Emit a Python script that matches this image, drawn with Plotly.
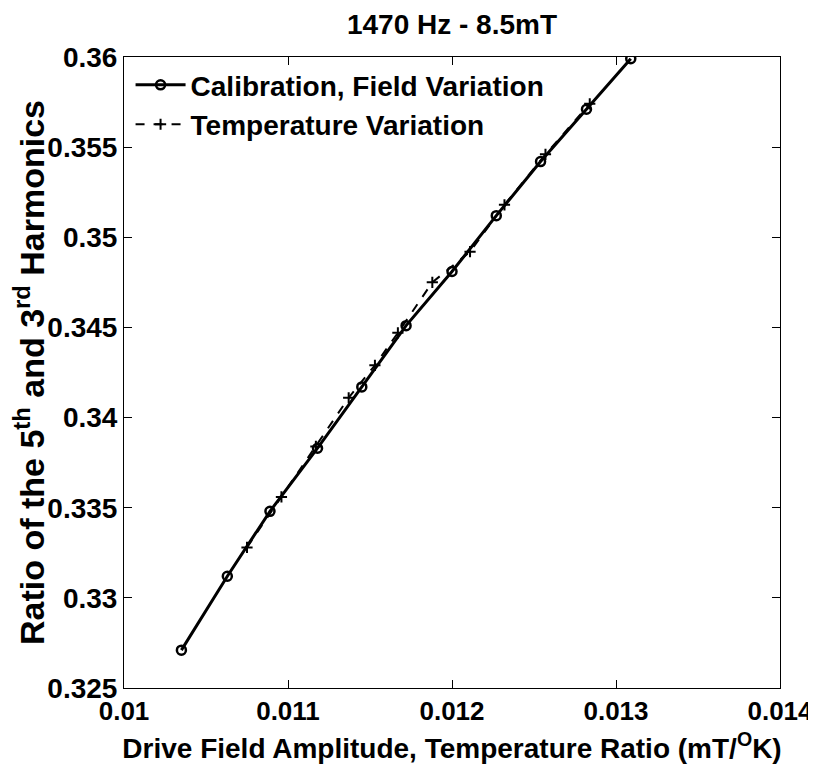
import plotly.graph_objects as go

# Calibration, field variation
calib_x = [0.01035, 0.01063, 0.01089, 0.01118, 0.01145, 0.01172, 0.01200, 0.01227, 0.01254, 0.01282, 0.01309]
calib_y = [0.3271, 0.3312, 0.3348, 0.3383, 0.3417, 0.3451, 0.3481, 0.3512, 0.3542, 0.3571, 0.3599]

# Temperature variation
temp_x = [0.01075, 0.01096, 0.01117, 0.01137, 0.01153, 0.01167, 0.01188, 0.01211, 0.01232, 0.01257, 0.01284]
temp_y = [0.3328, 0.3356, 0.3384, 0.3411, 0.3429, 0.3447, 0.3475, 0.3492, 0.3518, 0.3546, 0.3574]

x_ticks = [0.01, 0.011, 0.012, 0.013, 0.014]
x_labels = ["0.01", "0.011", "0.012", "0.013", "0.014"]
y_ticks = [0.325, 0.33, 0.335, 0.34, 0.345, 0.35, 0.355, 0.36]
y_labels = ["0.325", "0.33", "0.335", "0.34", "0.345", "0.35", "0.355", "0.36"]

font_name = "Liberation Sans, Arial, sans-serif"

calib_trace = go.Scatter(
    x=calib_x, y=calib_y,
    mode='lines+markers',
    line=dict(color='black', width=3),
    marker=dict(symbol='circle-open', size=9, color='black', line=dict(width=2.5)),
    name='<b>Calibration, Field Variation</b>'
)
temp_trace = go.Scatter(
    x=temp_x, y=temp_y,
    mode='lines+markers',
    line=dict(color='black', width=2, dash='dash'),
    marker=dict(symbol='cross-thin-open', size=8, color='black', line=dict(width=2, color='black')),
    name='<b>Temperature Variation</b>'
)

axis_common = dict(
    showgrid=False, zeroline=False, automargin=False, ticklabeloverflow='allow',
    showline=True, linecolor='black', linewidth=1, mirror='ticks',
    ticks='inside', ticklen=8, tickcolor='black',
)

# page body has an 8px offset, so the figure is shifted in the window
W, H = 808, 756

layout = go.Layout(
    title=dict(text='<b>1470 Hz - 8.5mT</b>', x=0.5, xref='paper', xanchor='center',
               y=1 - 16 / H, yanchor='middle',
               font=dict(family=font_name, size=28, color='black')),
    xaxis=dict(range=[0.01, 0.014], tickvals=x_ticks, ticktext=['<b>%s</b>' % t for t in x_labels],
               tickfont=dict(family=font_name, size=26, color='black'),
               title=dict(text='<b>Drive Field Amplitude, Temperature Ratio (mT/<sup>O</sup>K)</b>',
                          font=dict(family=font_name, size=28, color='black'), standoff=14),
               **axis_common),
    yaxis=dict(range=[0.325, 0.36], tickvals=y_ticks, ticktext=['<b>%s</b>' % t for t in y_labels],
               tickfont=dict(family=font_name, size=28, color='black'),
               title=dict(text='<b>Ratio of the 5<sup>th</sup> and 3<sup>rd</sup> Harmonics</b>',
                          font=dict(family=font_name, size=34, color='black'), standoff=6),
               **axis_common),
    legend=dict(x=0.01, y=0.995, xanchor='left', yanchor='top', bgcolor='rgba(0,0,0,0)',
                font=dict(family=font_name, size=28, color='black'), tracegroupgap=0,
                itemwidth=50),
    plot_bgcolor='white', paper_bgcolor='white',
    margin=dict(l=116, r=36, t=49, b=76),
    width=W, height=H,
)

fig = go.Figure(data=[calib_trace, temp_trace], layout=layout)
fig.write_html("out.html")
